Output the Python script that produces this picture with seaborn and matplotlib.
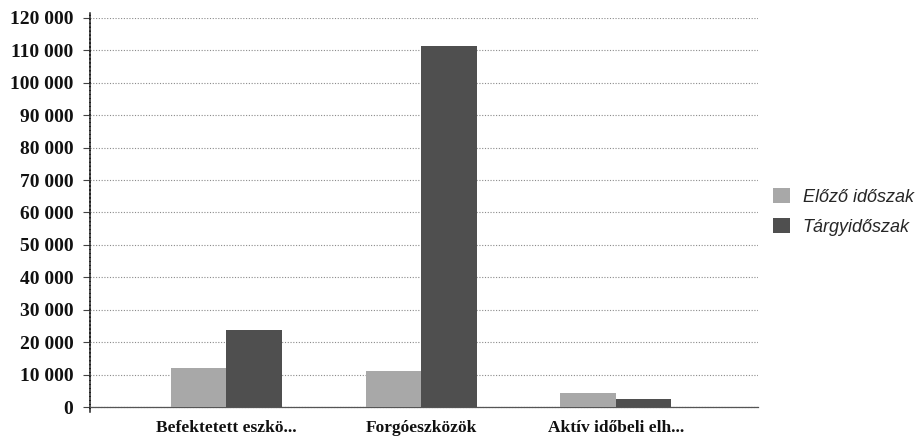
import matplotlib
matplotlib.use("Agg")
import matplotlib.pyplot as plt
from matplotlib.ticker import FuncFormatter
import seaborn as sns
import pandas as pd

# ---- data ----
categories = ["Befektetett eszkö...", "Forgóeszközök", "Aktív időbeli elh..."]
series_names = ["Előző időszak", "Tárgyidőszak"]
elozo = [12000, 11000, 4300]
targy = [23600, 111500, 2400]
y_ticks = [0, 10000, 20000, 30000, 40000, 50000, 60000, 70000, 80000, 90000,
           100000, 110000, 120000]

df = pd.DataFrame({
    "kategoria": categories * 2,
    "idoszak": [series_names[0]] * 3 + [series_names[1]] * 3,
    "ertek": elozo + targy,
})

sns.set_theme(style="white")
plt.rcParams["font.family"] = ["DejaVu Sans"]

fig = plt.figure(figsize=(9.24, 4.41), dpi=100)
ax = fig.add_axes([90 / 924, 1 - 407 / 441, (758 - 90) / 924, (407 - 18) / 441])

palette = {series_names[0]: "#a8a8a8", series_names[1]: "#4f4f4f"}
sns.barplot(data=df, x="kategoria", y="ertek", hue="idoszak", order=categories,
            hue_order=series_names, palette=palette, width=0.57, ax=ax,
            edgecolor="none", linewidth=0, saturation=1, zorder=3)

ax.set_xlim(-0.70, 2.73)
ax.set_ylim(0, 120000)
ax.set_yticks(y_ticks)
ax.yaxis.set_major_formatter(FuncFormatter(lambda v, p: f"{v:,.0f}".replace(",", " ")))
ax.set_xlabel("")
ax.set_ylabel("")

ax.grid(axis="y", color="#8a8a8a", linestyle=(0, (1, 1.5)), linewidth=0.8, zorder=0)
ax.grid(axis="x", visible=False)

for side in ["top", "right"]:
    ax.spines[side].set_visible(False)
ax.spines["left"].set_color("#222222")
ax.spines["left"].set_linewidth(1.1)
ax.spines["left"].set_linestyle((0, (2, 0.6)))
ax.spines["left"].set_bounds(-1500, 121500)
ax.spines["bottom"].set_color("#555555")
ax.spines["bottom"].set_linewidth(0.9)
ax.spines["bottom"].set_linestyle((0, (1.5, 0.8)))

ax.tick_params(axis="y", left=True, length=5, width=0.8, color="#444444", pad=7)
ax.tick_params(axis="x", bottom=False, length=0, pad=9)

for lab in ax.get_yticklabels():
    lab.set_fontfamily("Liberation Serif")
    lab.set_fontweight("bold")
    lab.set_fontsize(14)
    lab.set_color("#111111")
for lab in ax.get_xticklabels():
    lab.set_fontfamily("Liberation Serif")
    lab.set_fontweight("bold")
    lab.set_fontsize(12.5)
    lab.set_color("#111111")

ax.get_legend().remove()
handles, labels = ax.get_legend_handles_labels()
fig.legend(handles, labels, loc="center left", bbox_to_anchor=(773 / 924, 1 - 212 / 441),
           frameon=False, borderpad=0, borderaxespad=0, handlelength=0.95,
           handleheight=0.9, handletextpad=0.7, labelspacing=0.7,
           prop={"family": "Liberation Sans", "style": "italic", "size": 13})

fig.savefig("out.png", dpi=100)
